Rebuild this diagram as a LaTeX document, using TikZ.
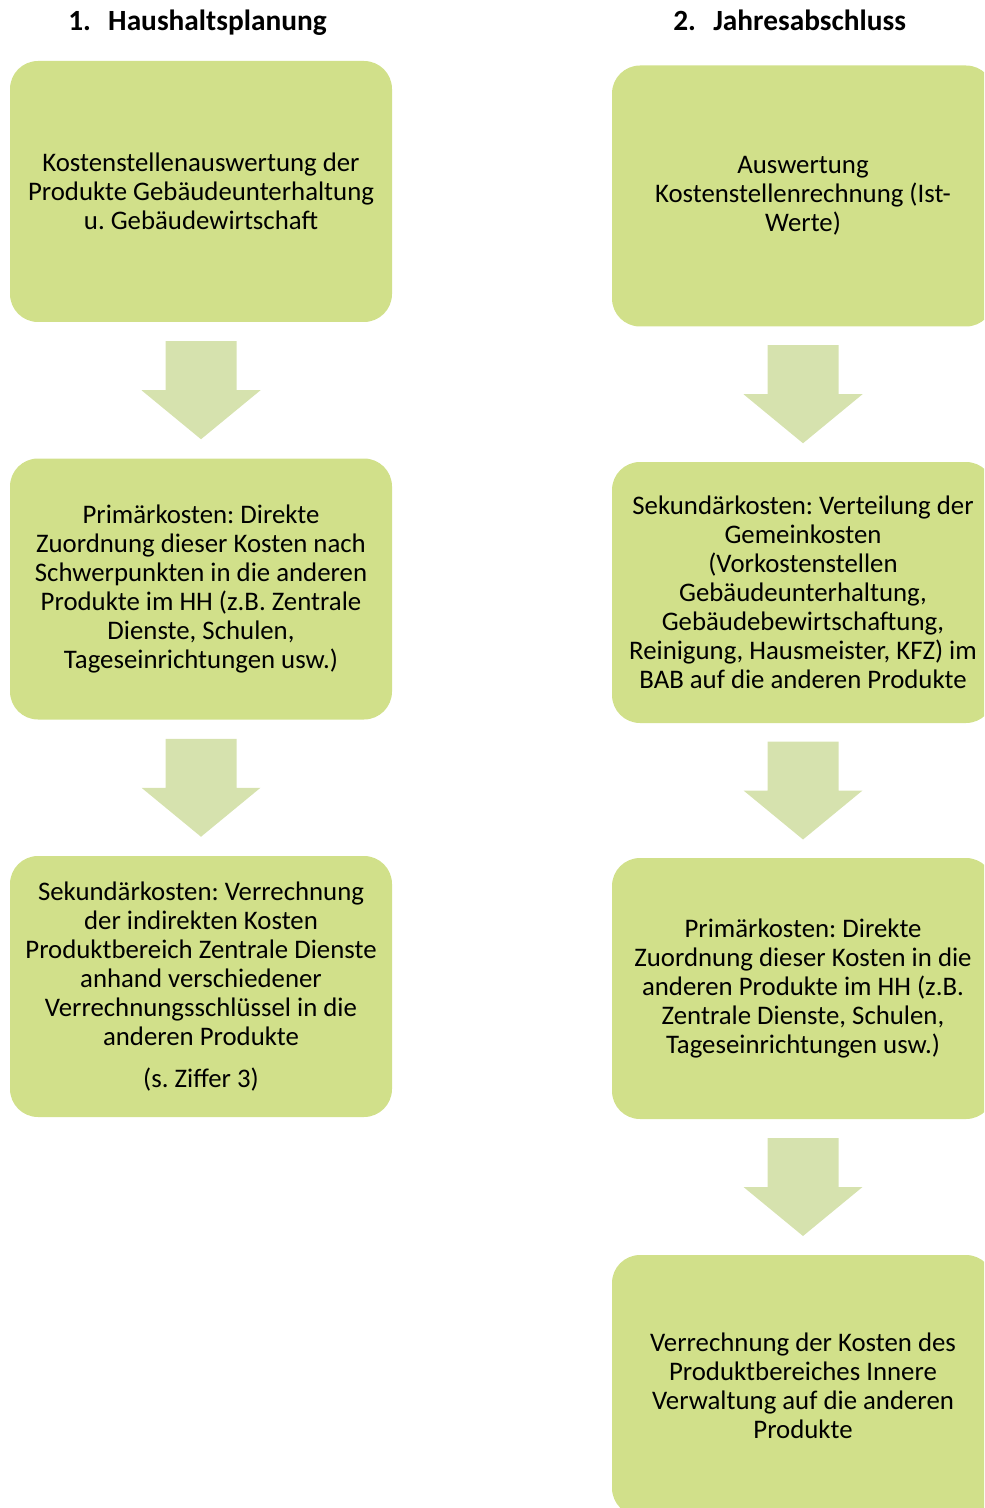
\documentclass[tikz,border=0pt]{standalone}
\usepackage{fontspec}
\setmainfont{Carlito}
\usetikzlibrary{calc}
\frenchspacing
\definecolor{boxgreen}{HTML}{D1E08A}
\definecolor{arrowgreen}{HTML}{D6E2AE}
\tikzset{
  box/.style={fill=boxgreen, rounded corners=21pt, minimum width=286.5pt,
    minimum height=195.75pt, align=center, inner sep=0pt,
    font=\fontsize{20.1}{21.75}\selectfont},
  head/.style={anchor=base west, inner sep=0pt, font=\fontsize{22}{24}\selectfont\bfseries},
  fat/.style={fill=arrowgreen}
}
\newcommand\FatArrow[2]{%
  \coordinate (m-#1) at ($(#1.south)!0.5!(#2.north)$);
  \fill[fat] ($(m-#1)+(-35.5,-49)$) -- ($(m-#1)+(35.5,-49)$) -- ($(m-#1)+(35.5,0)$)
    -- ($(m-#1)+(59.5,0)$) -- ($(m-#1)+(0,49)$) -- ($(m-#1)+(-59.5,0)$)
    -- ($(m-#1)+(-35.5,0)$) -- cycle;}
\begin{document}
\frenchspacing
\begin{tikzpicture}[x=0.75pt, y=-0.75pt]
\useasboundingbox (0,0) rectangle (984,1508);
\clip (0,0) rectangle (984,1508);
\node[head] (H1) at (68,31) {\makebox[30pt][l]{1.}Haushaltsplanung};
\node[head] (H2) at (673,31) {\makebox[30pt][l]{2.}Jahresabschluss};

\node[box] (L1) at (201,191.5) {Kostenstellenauswertung der\\Produkte Gebäudeunterhaltung\\u. Gebäudewirtschaft};
\node[box] (L2) at (201,589) {Primärkosten: Direkte\\Zuordnung dieser Kosten nach\\Schwerpunkten in die anderen\\Produkte im HH (z.B. Zentrale\\Dienste, Schulen,\\Tageseinrichtungen usw.)};
\node[box] (L3) at (201,986.5) {Sekundärkosten: Verrechnung\\der indirekten Kosten\\Produktbereich Zentrale Dienste\\anhand verschiedener\\Verrechnungsschlüssel in die\\anderen Produkte\\[9.5pt](s. Ziffer 3)};

\node[box] (R1) at (803,196) {Auswertung\\Kostenstellenrechnung (Ist-\\Werte)};
\node[box] (R2) at (803,592.5) {Sekundärkosten: Verteilung der\\Gemeinkosten\\(Vorkostenstellen\\Gebäudeunterhaltung,\\Gebäudebewirtschaftung,\\Reinigung, Hausmeister, KFZ) im\\BAB auf die anderen Produkte};
\node[box] (R3) at (803,988.5) {Primärkosten: Direkte\\Zuordnung dieser Kosten in die\\anderen Produkte im HH (z.B.\\Zentrale Dienste, Schulen,\\Tageseinrichtungen usw.)};
\node[box] (R4) at (803,1385.5) {Verrechnung der Kosten des\\Produktbereiches Innere\\Verwaltung auf die anderen\\Produkte};

\FatArrow{L1}{L2}
\FatArrow{L2}{L3}
\FatArrow{R1}{R2}
\FatArrow{R2}{R3}
\FatArrow{R3}{R4}
\end{tikzpicture}
\end{document}
